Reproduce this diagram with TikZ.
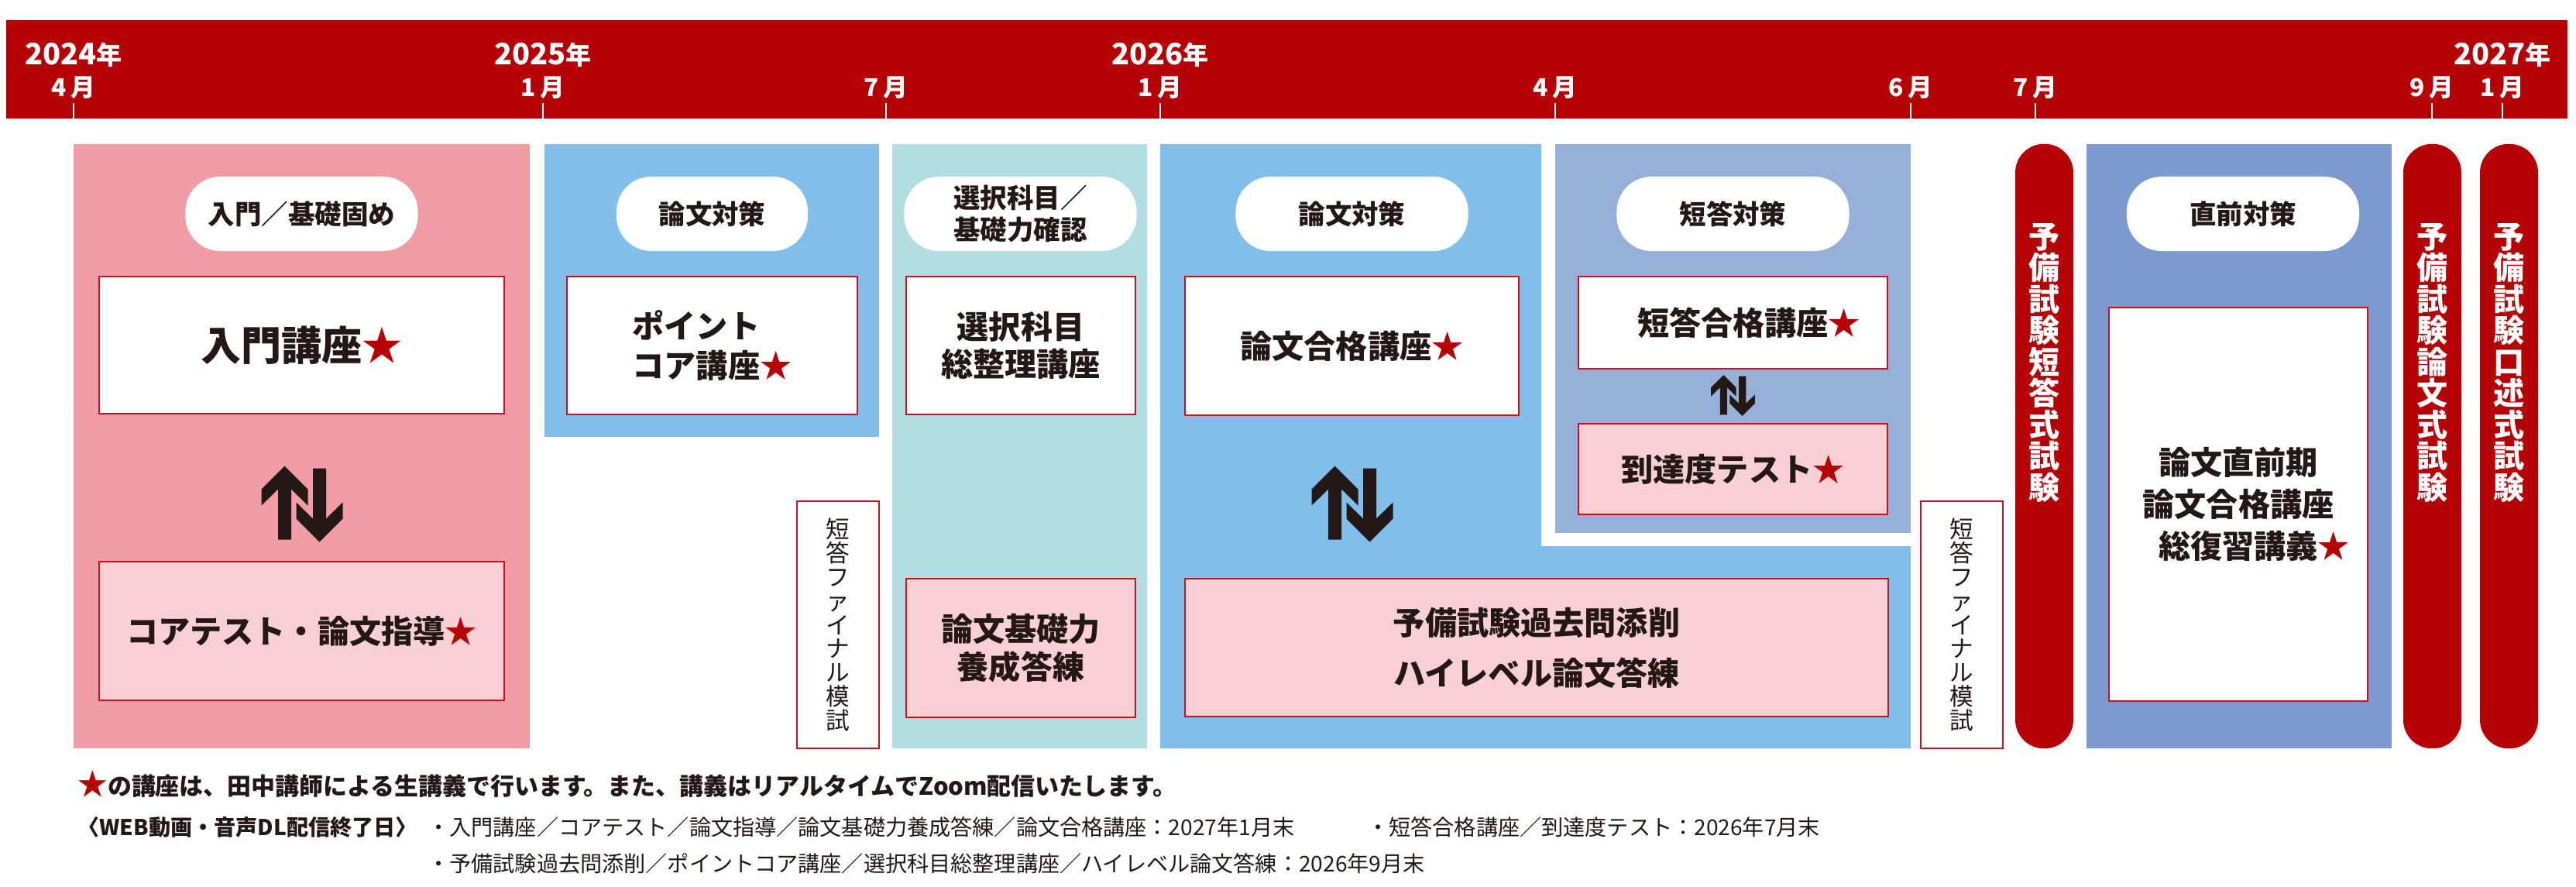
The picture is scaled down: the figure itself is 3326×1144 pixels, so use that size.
\documentclass[tikz,border=0pt]{standalone}
\usepackage{fontspec}
\usetikzlibrary{positioning}
\setmainfont{Noto Sans CJK JP}

\definecolor{exred}{RGB}{181,0,5}
\definecolor{boxred}{RGB}{200,16,30}
\definecolor{ink}{RGB}{35,24,21}
\definecolor{colpink}{RGB}{242,157,165}
\definecolor{colblue}{RGB}{130,190,234}
\definecolor{colteal}{RGB}{178,221,225}
\definecolor{collav}{RGB}{151,176,218}
\definecolor{coldark}{RGB}{125,154,206}
\definecolor{boxpink}{RGB}{248,208,212}

\newcommand{\fsz}[2]{\fontsize{#1pt}{#2pt}\selectfont}
\newcommand{\rstar}{{\color{exred}★}}

\tikzset{updown/.pic={
    \fill[ink] (-22.5,-49) -- (7.5,-19) -- (7.5,2) -- (-14,-19) -- (-14,46) -- (-31,46) -- (-31,-19) -- (-52.5,2) -- (-52.5,-19) -- cycle;
    \fill[ink, rotate=180] (-22.5,-49) -- (7.5,-19) -- (7.5,2) -- (-14,-19) -- (-14,46) -- (-31,46) -- (-31,-19) -- (-52.5,2) -- (-52.5,-19) -- cycle;
}}

\begin{document}
\begin{tikzpicture}[x=0.01cm, y=-0.01cm, thick,
    tag/.style={fill=white, rounded corners=0.45cm, minimum height=0.96cm, minimum width=3cm, inner sep=0pt, text=ink, align=center, font=\bfseries\fsz{9.8}{11.4}},
    course/.style={draw=boxred, line width=0.6pt, fill=white, inner sep=0pt, text=ink, align=center, font=\bfseries\fsz{11.7}{14}},
    drill/.style={course, fill=boxpink},
    mock/.style={draw=boxred, line width=0.6pt, fill=white, minimum width=1.06cm, minimum height=3.19cm, inner sep=0pt, text=ink, align=center, font=\fsz{8.7}{8.75}},
    exam/.style={fill=exred, rounded corners=0.37cm, minimum width=0.75cm, minimum height=7.8cm, inner sep=0pt},
    examtext/.style={text=white, inner sep=0pt, align=center, font=\bfseries\fsz{11.4}{11.52}},
    year/.style={text=white, inner sep=0pt, font=\bfseries\fsz{10.8}{12}},
    month/.style={text=white, inner sep=0pt, font=\bfseries\fsz{9}{10}},
    tick/.style={white, line width=0.6pt},
    note/.style={anchor=west, text=ink, inner sep=0pt, font=\fsz{8}{9}}]

    \useasboundingbox (0,0) rectangle (3326,1144);

    % time line
    \fill[exred] (8,26) rectangle (3315,153);
    \foreach \x/\m in {95/4,701/1,1144/7,1498/1,2008/4,2467/6,2628/7,3140/9,3231/1}{
        \draw[tick] (\x,133) -- (\x,153);
        \node[month] (m\x) at (\x,113) {\m\,月};
    }
    \foreach \x/\y in {95/2024,701/2025,1498/2026,3231/2027}
        \node[year] (y\y) at (\x,71) {\y{\fsz{9.4}{10}年}};

    % periods
    \fill[colpink] (95,186) rectangle (684,966);
    \fill[colblue] (703,186) rectangle (1135,564);
    \fill[colteal] (1152,186) rectangle (1481,966);
    \fill[colblue] (1498,186) -- (1990,186) -- (1990,705) -- (2467,705) -- (2467,966) -- (1498,966) -- cycle;
    \fill[collav] (2008,186) rectangle (2467,688);
    \fill[coldark] (2694,186) rectangle (3088,966);

    \node[tag] (t1) at (389.5,276) {入門／基礎固め};
    \node[tag, minimum width=2.47cm] (t2) at (919.5,276) {論文対策};
    \node[tag] (t3) at (1317.5,276) {選択科目／\\基礎力確認};
    \node[tag] (t4) at (1745.5,276) {論文対策};
    \node[tag] (t5) at (2237.5,276) {短答対策};
    \node[tag] (t6) at (2896,276) {直前対策};

    \node[course, minimum width=5.23cm, minimum height=1.77cm, font=\bfseries\fsz{14.8}{16}] (b1) at (389.5,445.5) {入門講座\rstar};
    \node[drill, minimum width=5.23cm, minimum height=1.79cm] (b2) at (389.5,814.5) {コアテスト・論文指導\rstar};
    \node[course, minimum width=3.75cm, minimum height=1.78cm, align=left, font=\bfseries\fsz{11.7}{14.5}] (b3) at (919.5,446) {ポイント\\コア講座\rstar};
    \node[mock] (f1) at (1082,806.5) {短\\答\\フ\\ァ\\イ\\ナ\\ル\\模\\試};
    \node[course, minimum width=2.96cm, minimum height=1.78cm, font=\bfseries\fsz{11.7}{13.7}] (b4) at (1318,446) {選択科目\\総整理講座};
    \node[drill, minimum width=2.96cm, minimum height=1.79cm] (b5) at (1318,836.5) {論文基礎力\\養成答練};
    \node[course, minimum width=4.31cm, minimum height=1.79cm] (b6) at (1745.5,446.5) {論文合格講座\rstar};
    \node[drill, minimum width=9.08cm, minimum height=1.78cm, font=\bfseries\fsz{11.7}{18.5}] (b7) at (1984,836) {予備試験過去問添削\\ハイレベル論文答練};
    \node[course, minimum width=3.99cm, minimum height=1.19cm] (b8) at (2237.5,416.5) {短答合格講座\rlap{\rstar}};
    \node[drill, minimum width=3.99cm, minimum height=1.17cm] (b9) at (2237.5,605.5) {到達度テスト\rstar};
    \node[mock] (f2) at (2533,806.5) {短\\答\\フ\\ァ\\イ\\ナ\\ル\\模\\試};
    \node[course, minimum width=3.34cm, minimum height=5.08cm, font=\bfseries\fsz{11.7}{15.4}] (b10) at (2890,651) {論文直前期\\論文合格講座\\総復習講義\rlap{\rstar}};

    \pic at (390,650.5) {updown};
    \pic at (1746,650.5) {updown};
    \pic[scale=0.54] at (2237.5,510.5) {updown};

    % exams
    \node[exam] (e1) at (2639.5,576) {};
    \node[exam] (e2) at (3140.5,576) {};
    \node[exam] (e3) at (3239.5,576) {};
    \node[examtext, below=1.02cm of e1.north] (e1t) {予\\備\\試\\験\\短\\答\\式\\試\\験};
    \node[examtext, below=1.02cm of e2.north] (e2t) {予\\備\\試\\験\\論\\文\\式\\試\\験};
    \node[examtext, below=1.02cm of e3.north] (e3t) {予\\備\\試\\験\\口\\述\\式\\試\\験};

    % notes
    \node[note, font=\bfseries\fsz{8.8}{10}] (lead) at (99,1012) {{\fsz{11}{11}\color{exred}★}の講座は、田中講師による生講義で行います。また、講義はリアルタイムでZoom配信いたします。};
    \node[note, font=\bfseries\fsz{8}{9}] (web) at (99,1068) {〈WEB動画・音声DL配信終了日〉};
    \node[note] (end1) at (551,1068) {・入門講座／コアテスト／論文指導／論文基礎力養成答練／論文合格講座：2027年1月末};
    \node[note] (end2) at (1764,1068) {・短答合格講座／到達度テスト：2026年7月末};
    \node[note] (end3) at (551,1115) {・予備試験過去問添削／ポイントコア講座／選択科目総整理講座／ハイレベル論文答練：2026年9月末};
\end{tikzpicture}
\end{document}
